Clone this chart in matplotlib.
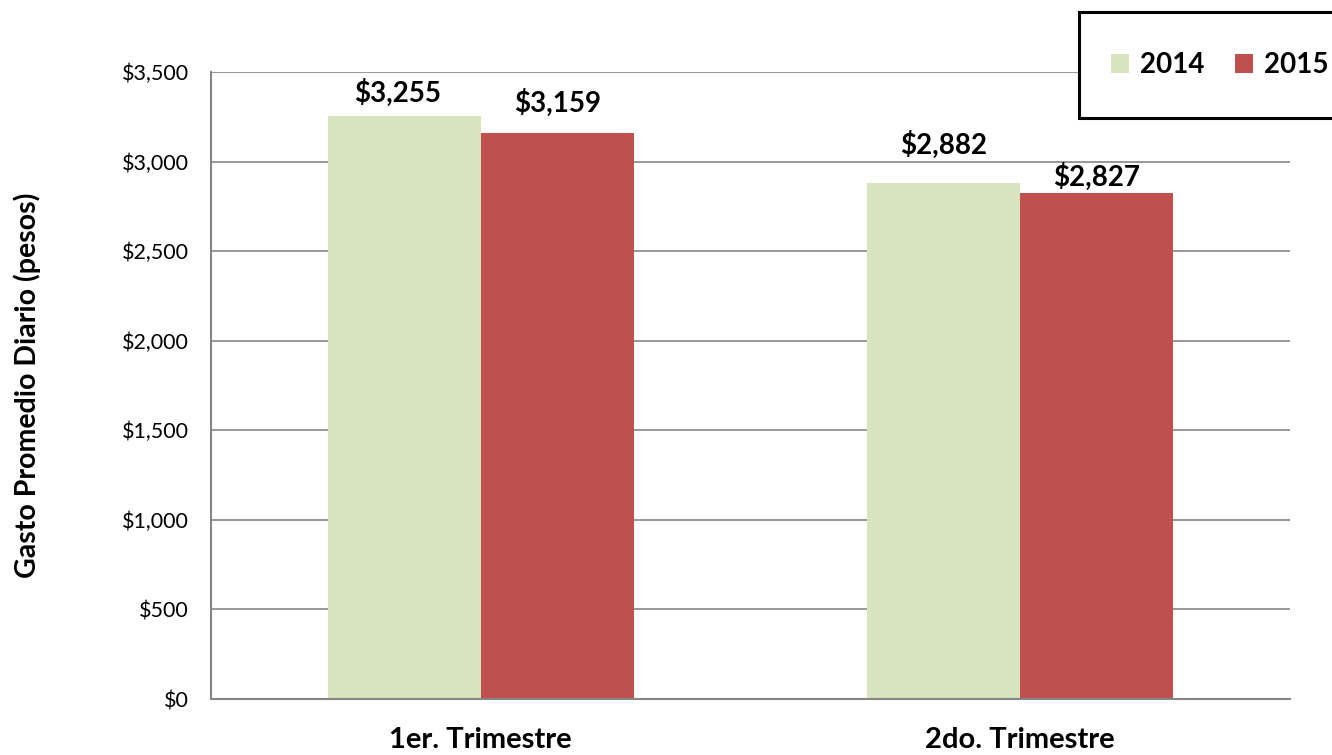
import matplotlib
matplotlib.use("Agg")
import matplotlib.pyplot as plt
from matplotlib.patches import Rectangle, Patch
import numpy as np

plt.rcParams['font.family'] = ['Lato', 'DejaVu Sans']

categories = ["1er. Trimestre", "2do. Trimestre"]
series_names = ["2014", "2015"]
values_2014 = [3255, 2882]
values_2015 = [3159, 2827]
yticks = [0, 500, 1000, 1500, 2000, 2500, 3000, 3500]
colors = ["#D7E4BD", "#C0504D"]

# label placement (pixels: dx, gap between baseline and bar top) - style only
label_offsets_2014 = [(-7, 14), (0, 29)]
label_offsets_2015 = [(0, 21), (0, 7)]

fig = plt.figure(figsize=(13.32, 7.55), dpi=100)
ax = fig.add_axes([211/1332, 1-699/755, (1290-211)/1332, (699-72)/755])

x = np.arange(len(categories))
w = 0.284
b1 = ax.bar(x - w/2, values_2014, w, color=colors[0], zorder=3)
b2 = ax.bar(x + w/2, values_2015, w, color=colors[1], zorder=3)

px2pt = 72 / 100
for bars, vals, offs in ((b1, values_2014, label_offsets_2014), (b2, values_2015, label_offsets_2015)):
    for r, v, (dx, dy) in zip(bars, vals, offs):
        ax.annotate(f"${v:,}", (r.get_x() + r.get_width()/2, v),
                    xytext=(dx * px2pt, dy * px2pt), textcoords="offset points",
                    ha="center", va="baseline", fontsize=20, fontweight="bold",
                    zorder=5)

ax.set_xlim(-0.5, 1.5)
ax.set_ylim(0, 3500)
ax.set_yticks(yticks)
ax.set_yticklabels([f"${t:,}" for t in yticks], fontsize=15.5)
ax.set_xticks(x)
ax.set_xticklabels(categories, fontsize=21, fontweight="bold")
ax.tick_params(axis="x", length=0, pad=20)
ax.tick_params(axis="y", length=0, pad=16)
ax.grid(axis="y", color="#868686", linewidth=1.2, zorder=0)
for s in ("top", "right"):
    ax.spines[s].set_visible(False)
for s in ("left", "bottom"):
    ax.spines[s].set_color("#868686")
    ax.spines[s].set_linewidth(1.5)
    ax.spines[s].set_zorder(4)

ax.set_ylabel("Gasto Promedio Diario (pesos)", fontsize=20.5, fontweight="bold")
ax.yaxis.set_label_coords(-(211-27)/1079, 0.5)
ax.yaxis.label.set_va("center")

# legend box
rect = Rectangle((1079/1332, 1-118/755), 0.25, (118-12)/755, transform=fig.transFigure,
                 facecolor="white", edgecolor="black", linewidth=2.2, clip_on=False, zorder=10)
fig.patches.append(rect)
handles = [Patch(facecolor=c, edgecolor='none') for c in colors]
leg = fig.legend(handles, series_names, loc="center left",
                 bbox_to_anchor=(1111/1332, 1-65/755), ncol=2, frameon=False,
                 prop={"size": 20, "weight": "bold"}, handlelength=0.65, handleheight=0.65,
                 handletextpad=0.4, columnspacing=1.1, borderpad=0, borderaxespad=0)
leg.set_zorder(11)

fig.savefig("out.png", dpi=100)
